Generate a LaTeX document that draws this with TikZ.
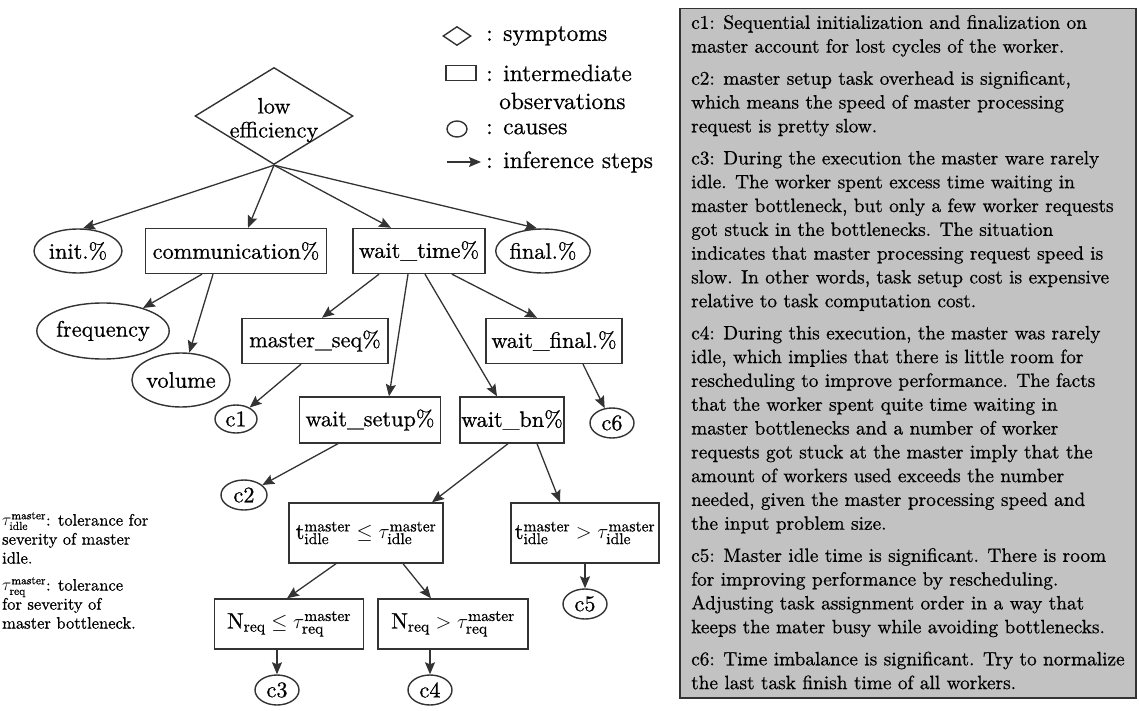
\documentclass[tikz,border=0pt]{standalone}
\usepackage{fontspec}
\setmainfont{lmroman10-regular.otf}[FakeBold=0.7]
\usetikzlibrary{shapes.geometric,arrows.meta}
\definecolor{panel}{gray}{0.76}
\definecolor{ink}{gray}{0.2}
\begin{document}
\begin{tikzpicture}[x=1pt,y=-1pt,
  every node/.style={font=\fontsize{22.3}{24}\selectfont, text=black},
  sym/.style={draw=ink, line width=1.4pt, diamond, inner sep=0pt},
  obs/.style={draw=ink, line width=1.4pt, rectangle, inner sep=0pt, minimum height=45pt},
  cause/.style={draw=ink, line width=1.4pt, ellipse, inner sep=0pt},
  inf/.style={draw=ink, line width=1.3pt, -{Stealth[length=12pt,width=10pt,inset=2pt]}},
  legtext/.style={anchor=west, inner sep=0pt, font=\fontsize{23.5}{25}\selectfont},
  note/.style={anchor=north west, align=left, inner sep=0pt, font=\fontsize{16.5}{19}\selectfont},
]
\useasboundingbox (0,0) rectangle (1139,711);

% ---------- legend ----------
\node[sym, minimum width=28pt, minimum height=19pt] (lsym) at (457,36) {};
\node[legtext] (lsymt) at (486,36) {: symptoms};
\node[obs, minimum width=30pt, minimum height=15pt] (lobs) at (461,73) {};
\node[legtext] (lobst) at (486,73) {: intermediate};
\node[legtext] (lobst2) at (499,101) {observations};
\node[cause, minimum width=20pt, minimum height=16pt] (lcause) at (457,129) {};
\node[legtext] (lcauset) at (486,129) {: causes};
\coordinate (larr0) at (447,162);
\coordinate (larr1) at (481,162);
\draw[inf] (larr0) -- (larr1);
\node[legtext] (larrt) at (486,162) {: inference steps};

% ---------- inference tree ----------
\node[sym, minimum width=158pt, minimum height=97pt] (low) at (274,116) {};
\node[align=center, inner sep=0pt] (lowtxt) at (274,120) {low\\efficiency};

\node[cause, minimum width=88pt, minimum height=44pt] (init) at (78,251) {init.\%};
\node[obs, minimum width=181pt] (comm) at (236,251) {communication\%};
\node[obs, minimum width=132pt] (wt) at (419,251) {wait\_time\%};
\node[cause, minimum width=84pt, minimum height=44pt] (final) at (543,251) {final.\%};

\node[cause, minimum width=116pt, minimum height=56pt] (freq) at (103,331) {frequency};
\node[cause, minimum width=90pt, minimum height=54pt] (vol) at (181,380) {volume};
\node[obs, minimum width=146pt] (ms) at (315,341) {master\_seq\%};
\node[obs, minimum width=136pt] (wf) at (554,341) {wait\_final.\%};

\node[cause, minimum width=42pt, minimum height=28pt] (c1) at (236,419) {c1};
\node[obs, minimum width=141pt, minimum height=46pt] (ws) at (370,420) {wait\_setup\%};
\node[obs, minimum width=104pt, minimum height=46pt] (wb) at (512,420) {wait\_bn\%};
\node[cause, minimum width=44pt, minimum height=30pt] (c6) at (612,423) {c6};

\node[cause, minimum width=46pt, minimum height=30pt] (c2) at (244,495) {c2};
\node[obs, minimum width=154pt, minimum height=60pt] (tle) at (366,533)
  {$\mathrm{t}^{\mathrm{master}}_{\mathrm{idle}} \le \tau^{\mathrm{master}}_{\mathrm{idle}}$};
\node[obs, minimum width=148pt, minimum height=60pt] (tgt) at (585,533)
  {$\mathrm{t}^{\mathrm{master}}_{\mathrm{idle}} > \tau^{\mathrm{master}}_{\mathrm{idle}}$};
\node[cause, minimum width=44pt, minimum height=30pt] (c5) at (585,604) {c5};

\node[obs, minimum width=149pt, minimum height=50pt] (nle) at (289,624)
  {$\mathrm{N}_{\mathrm{req}} \le \tau^{\mathrm{master}}_{\mathrm{req}}$};
\node[obs, minimum width=150pt, minimum height=50pt] (ngt) at (453,624)
  {$\mathrm{N}_{\mathrm{req}} > \tau^{\mathrm{master}}_{\mathrm{req}}$};
\node[cause, minimum width=44pt, minimum height=30pt] (c3) at (277,690) {c3};
\node[cause, minimum width=44pt, minimum height=30pt] (c4) at (430,690) {c4};

% inference steps
\draw[inf] (low.south) -- ([xshift=5pt]init.north);
\draw[inf] (low.south) -- ([xshift=12pt]comm.north);
\draw[inf] (low.south) -- ([xshift=-28pt]wt.north);
\draw[inf] (low.south) -- ([xshift=-6pt]final.north);

\draw[inf] ([xshift=-34pt]comm.south) -- (freq);
\draw[inf] ([xshift=-23pt]comm.south) -- (vol);

\draw[inf] ([xshift=-40pt]wt.south) -- ([xshift=7pt]ms.north);
\draw[inf] ([xshift=-11pt]wt.south) -- ([xshift=19pt]ws.north);
\draw[inf] ([xshift=6pt]wt.south) -- ([xshift=-15pt]wb.north);
\draw[inf] ([xshift=33pt]wt.south) -- ([xshift=-17pt]wf.north);

\draw[inf] ([xshift=-14pt]ms.south) -- (c1);
\draw[inf] ([xshift=29pt]wf.south) -- (c6);
\draw[inf] ([xshift=-32pt]ws.south) -- (c2);

\draw[inf] ([xshift=-4pt]wb.south) -- ([xshift=66pt]tle.north);
\draw[inf] ([xshift=25pt]wb.south) -- ([xshift=-25pt]tgt.north);
\draw[inf] (tgt) -- (c5);

\draw[inf] ([xshift=-30pt]tle.south) -- ([xshift=-2pt]nle.north);
\draw[inf] ([xshift=37pt]tle.south) -- ([xshift=-22pt]ngt.north);
\draw[inf] ([xshift=-12pt]nle.south) -- (c3);
\draw[inf] ([xshift=-23pt]ngt.south) -- (c4);

% ---------- tolerance notes ----------
\node[note] (tauidle) at (2,512)
  {$\tau^{\mathrm{master}}_{\mathrm{idle}}$: tolerance for\\severity of master\\idle.};
\node[note] (taureq) at (2,577)
  {$\tau^{\mathrm{master}}_{\mathrm{req}}$: tolerance\\for severity of\\master bottleneck.};

% ---------- cause descriptions ----------
\node[draw=ink, line width=1.5pt, fill=panel, anchor=north west, inner sep=0pt,
      minimum width=456pt, minimum height=689pt] (panel) at (679,8) {};
\node[anchor=north west, align=left, inner sep=0pt,
      font=\fontsize{19.3}{23.8}\selectfont] (causes) at (691,15)
{c1: Sequential initialization and finalization on\\
master account for lost cycles of the worker.\\[8.3pt]
c2: master setup task overhead is significant,\\
which means the speed of master processing\\
request is pretty slow.\\[8.3pt]
c3: During the execution the master ware rarely\\
idle. The worker spent excess time waiting in\\
master bottleneck, but only a few worker requests\\
got stuck in the bottlenecks. The situation\\
indicates that master processing request speed is\\
slow. In other words, task setup cost is expensive\\
relative to task computation cost.\\[8.3pt]
c4: During this execution, the master was rarely\\
idle, which implies that there is little room for\\
rescheduling to improve performance. The facts\\
that the worker spent quite time waiting in\\
master bottlenecks and a number of worker\\
requests got stuck at the master imply that the\\
amount of workers used exceeds the number\\
needed, given the master processing speed and\\
the input problem size.\\[8.3pt]
c5: Master idle time is significant. There is room\\
for improving performance by rescheduling.\\
Adjusting task assignment order in a way that\\
keeps the mater busy while avoiding bottlenecks.\\[8.3pt]
c6: Time imbalance is significant. Try to normalize\\
the last task finish time of all workers.};
\end{tikzpicture}
\end{document}
